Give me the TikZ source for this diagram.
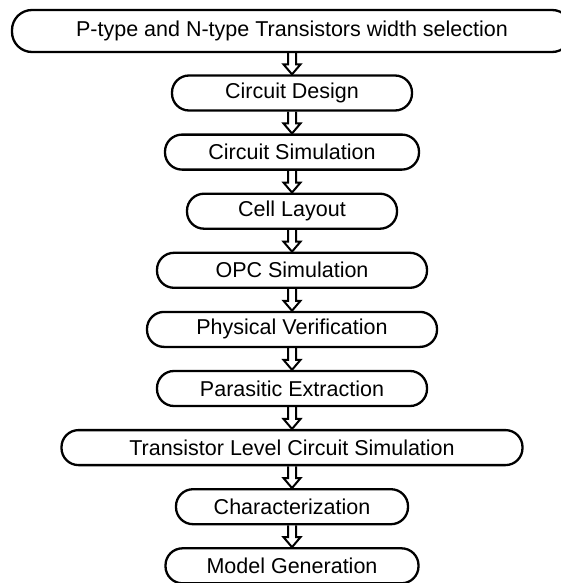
\documentclass[tikz,border=0pt]{standalone}
\usepackage{fontspec}
\setmainfont{Liberation Sans}
\usetikzlibrary{calc}
\tikzset{
  x=1pt,y=1pt,
  stage/.style={draw=black, line width=2.3pt, rounded corners=17pt, fill=white,
    minimum height=35pt, inner sep=0pt, align=center,
    font=\fontsize{21.5}{25}\selectfont},
  blockarr/.style={draw=black, line width=2pt, line join=miter}
}
\newcommand\flowarrow[2]{%
  \draw[blockarr] ($(#1.south)+(-4,0)$) -- ($(#2.north)+(-4,10)$) -- ($(#2.north)+(-8.5,10)$)
    -- (#2.north) -- ($(#2.north)+(8.5,10)$) -- ($(#2.north)+(4,10)$) -- ($(#1.south)+(4,0)$);}
\begin{document}
\begin{tikzpicture}
\clip (0,0) rectangle (561,-583);
\useasboundingbox (0,0) rectangle (561,-583);
\node[stage, minimum width=560pt, minimum height=42pt, rounded corners=20pt] (n1) at (292,-31) {P-type and N-type Transistors width selection};
\node[stage, minimum width=240pt] (n2) at (292,-93) {Circuit Design};
\node[stage, minimum width=254pt] (n3) at (292,-152.1) {Circuit Simulation};
\node[stage, minimum width=210pt] (n4) at (292,-211.2) {Cell Layout};
\node[stage, minimum width=270pt] (n5) at (292,-270.3) {OPC Simulation};
\node[stage, minimum width=290pt] (n6) at (292,-329.4) {Physical Verification};
\node[stage, minimum width=270pt] (n7) at (292,-388.5) {Parasitic Extraction};
\node[stage, minimum width=461pt] (n8) at (292,-447.6) {Transistor Level Circuit Simulation};
\node[stage, minimum width=232pt] (n9) at (292,-506.7) {Characterization};
\node[stage, minimum width=253pt] (n10) at (292,-565.8) {Model Generation};
\flowarrow{n1}{n2}
\flowarrow{n2}{n3}
\flowarrow{n3}{n4}
\flowarrow{n4}{n5}
\flowarrow{n5}{n6}
\flowarrow{n6}{n7}
\flowarrow{n7}{n8}
\flowarrow{n8}{n9}
\flowarrow{n9}{n10}
\end{tikzpicture}
\end{document}
